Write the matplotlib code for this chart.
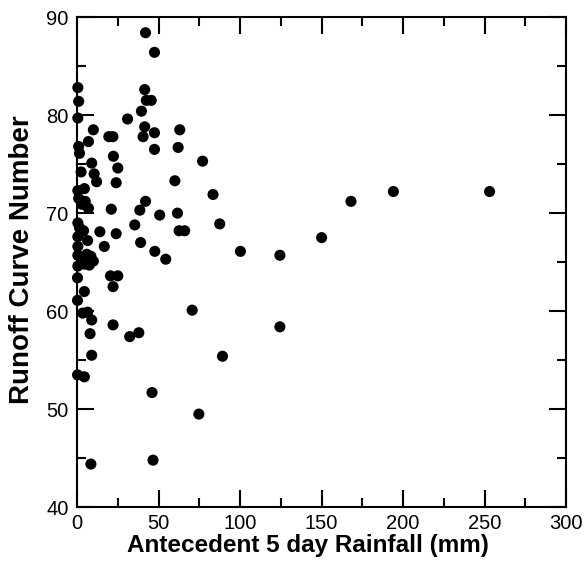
import matplotlib
matplotlib.use('Agg')
import matplotlib.pyplot as plt
from matplotlib.ticker import MultipleLocator

plt.rcParams['font.family'] = ['Liberation Sans', 'DejaVu Sans']

# antecedent 5 day rainfall (mm) and runoff curve number
rain = [0.5, 1, 0.5, 10, 7, 1, 1.5, 9, 2.5, 10.5, 12, 0.5, 4.5, 1, 3, 5, 7,
        0.5, 1.5, 4, 0.5, 6.5, 0.5, 0.5, 6, 4, 8.5, 0.5, 4.5, 7.5, 10, 0.3,
        4.5, 0.3, 3.5, 6.5, 9, 8, 9, 0.3, 4.5, 8.5,
        42, 47.5, 41.5, 42.5, 45.5, 31, 39.5, 41.5, 40.5, 47.5, 47.5, 19.5, 22,
        22.3, 25, 24, 21, 42, 38.5, 50.7, 35.4, 14, 24, 39, 16.7, 47.7, 54.4,
        20.5, 25, 22.1, 22.1, 32.3, 37.9, 46, 46.6,
        63, 62, 77, 60, 83.4, 61.6, 87.5, 62.6, 66, 100.2, 124.4, 70.6, 124.4,
        89.2, 74.7, 150, 168, 194, 253]
cn = [82.8, 81.4, 79.7, 78.5, 77.3, 76.8, 76.1, 75.1, 74.2, 74.0, 73.2, 72.3,
      72.5, 71.5, 70.9, 71.2, 70.5, 69.0, 68.5, 68.2, 67.6, 67.2, 66.6, 65.7,
      65.8, 65.3, 65.6, 64.6, 64.8, 64.7, 65.1, 63.4, 62.0, 61.1, 59.8, 59.9,
      59.1, 57.7, 55.5, 53.5, 53.3, 44.4,
      88.4, 86.4, 82.6, 81.5, 81.5, 79.6, 80.4, 78.8, 77.8, 78.2, 76.5, 77.8,
      77.8, 75.8, 74.6, 73.1, 70.4, 71.2, 70.3, 69.8, 68.8, 68.1, 67.9, 67.0,
      66.6, 66.1, 65.3, 63.6, 63.6, 62.5, 58.6, 57.4, 57.8, 51.7, 44.8,
      78.5, 76.7, 75.3, 73.3, 71.9, 70.0, 68.9, 68.2, 68.2, 66.1, 65.7, 60.1,
      58.4, 55.4, 49.5, 67.5, 71.2, 72.2, 72.2]

fig = plt.figure(figsize=(5.88, 5.68), dpi=100)
ax = fig.add_axes([0.131, 0.107, 0.832, 0.863])

ax.scatter(rain, cn, s=64, color='black', edgecolors='none', zorder=3, clip_on=False)

ax.set_xlim(0, 300)
ax.set_ylim(40, 90)
ax.xaxis.set_major_locator(MultipleLocator(50))
ax.xaxis.set_minor_locator(MultipleLocator(25))
ax.yaxis.set_major_locator(MultipleLocator(10))
ax.yaxis.set_minor_locator(MultipleLocator(5))
ax.tick_params(which='both', direction='in', top=True, right=True, width=1.5,
               labelsize=14.5)
ax.tick_params(axis='x', pad=5)
ax.tick_params(axis='y', pad=6)
ax.tick_params(which='major', length=12)
ax.tick_params(which='minor', length=6.5)
for s in ax.spines.values():
    s.set_linewidth(1.5)

ax.set_xlabel('Antecedent 5 day Rainfall (mm)', fontsize=17.5, fontweight='bold')
ax.set_ylabel('Runoff Curve Number', fontsize=20, fontweight='bold')
ax.xaxis.set_label_coords(0.471, -0.055)
ax.yaxis.set_label_coords(-0.086, 0.505)

fig.savefig('out.png', dpi=100)
